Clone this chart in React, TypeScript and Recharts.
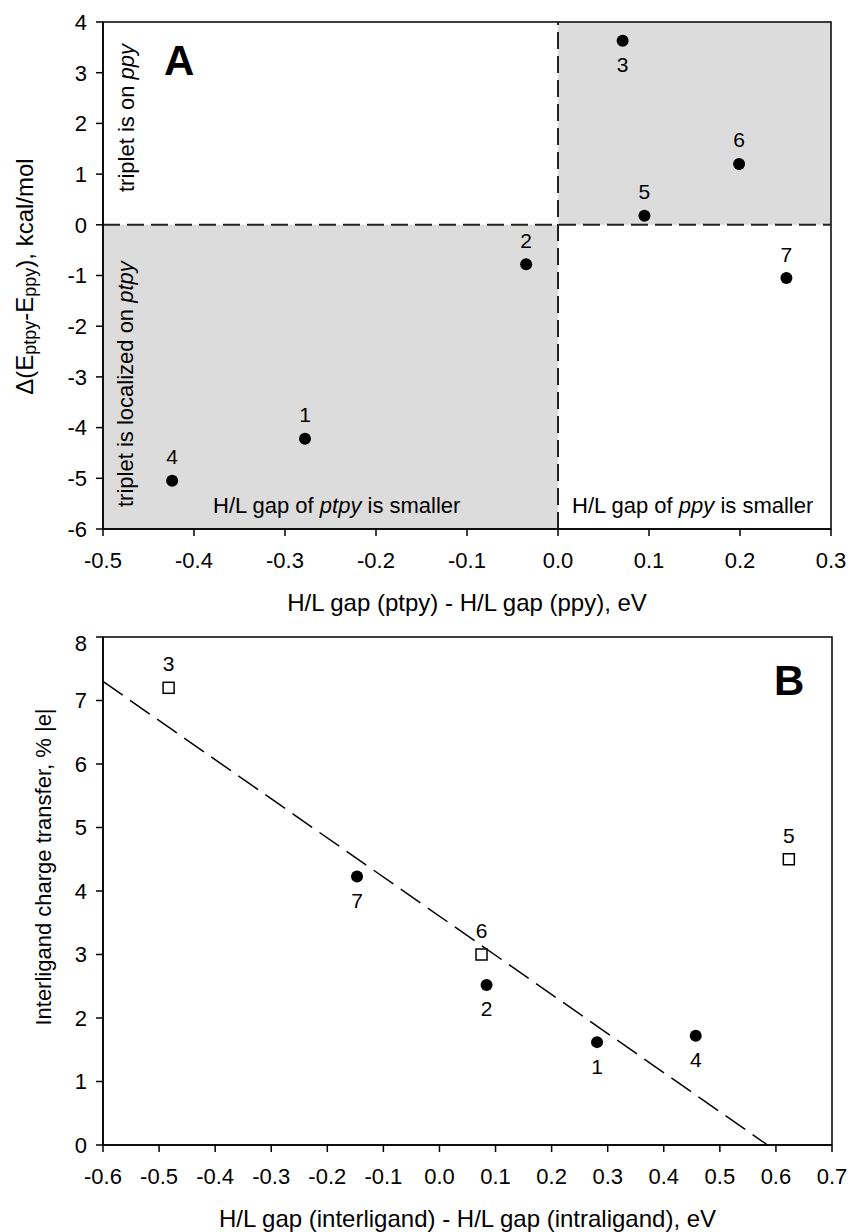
import React from 'react';
import {
  ScatterChart,
  Scatter,
  XAxis,
  YAxis,
  ReferenceArea,
  ReferenceLine,
  Label,
} from 'recharts';

const FONT = '"Liberation Sans", Arial, Helvetica, sans-serif';

// Panel A: complex id, H/L gap difference (eV), energy difference (kcal/mol)
const A_IDS = ['1', '2', '3', '4', '5', '6', '7'];
const A_X = [-0.278, -0.035, 0.071, -0.424, 0.095, 0.199, 0.251];
const A_Y = [-4.22, -0.78, 3.63, -5.05, 0.18, 1.2, -1.05];
const A_LABEL_BELOW = ['3'];
const A_X_TICKS = [-0.5, -0.4, -0.3, -0.2, -0.1, 0, 0.1, 0.2, 0.3];
const A_Y_TICKS = [-6, -5, -4, -3, -2, -1, 0, 1, 2, 3, 4];

// Panel B: filled circles and open squares
const B_FILLED_IDS = ['1', '2', '4', '7'];
const B_FILLED_X = [0.281, 0.084, 0.457, -0.147];
const B_FILLED_Y = [1.62, 2.52, 1.72, 4.23];
const B_OPEN_IDS = ['3', '5', '6'];
const B_OPEN_X = [-0.483, 0.623, 0.075];
const B_OPEN_Y = [7.2, 4.5, 3.0];
const B_LABEL_BELOW = ['1', '2', '4', '7'];
const B_FIT_X = [-0.6, 0.585];
const B_FIT_Y = [7.3, 0];
const B_X_TICKS = [-0.6, -0.5, -0.4, -0.3, -0.2, -0.1, 0, 0.1, 0.2, 0.3, 0.4, 0.5, 0.6, 0.7];
const B_Y_TICKS = [0, 1, 2, 3, 4, 5, 6, 7, 8];

const toRows = (ids: string[], xs: number[], ys: number[]) =>
  ids.map((id, i) => ({ id, x: xs[i], y: ys[i] }));

const dataA = toRows(A_IDS, A_X, A_Y);
const dataBFilled = toRows(B_FILLED_IDS, B_FILLED_X, B_FILLED_Y);
const dataBOpen = toRows(B_OPEN_IDS, B_OPEN_X, B_OPEN_Y);

const fmt = (v: number) => v.toFixed(1);

const pointLabel = (cx: number, cy: number, id: string, below: boolean) => (
  <text
    x={cx}
    y={cy + (below ? 24 : -24)}
    textAnchor="middle"
    dominantBaseline="central"
    fontSize={21}
    fontFamily={FONT}
    fill="#000"
  >
    {id}
  </text>
);

const makeDot = (belowIds: string[]) => (props: any) => {
  const { cx, cy, payload } = props;
  return (
    <g>
      <circle cx={cx} cy={cy} r={6} fill="#000" />
      {pointLabel(cx, cy, payload.id, belowIds.includes(payload.id))}
    </g>
  );
};

const makeSquare = (belowIds: string[]) => (props: any) => {
  const { cx, cy, payload } = props;
  return (
    <g>
      <rect x={cx - 5.5} y={cy - 5.5} width={11} height={11} fill="#fff" stroke="#000" strokeWidth={1.5} />
      {pointLabel(cx, cy, payload.id, belowIds.includes(payload.id))}
    </g>
  );
};

const axisProps = {
  stroke: '#000',
  axisLine: { stroke: '#000', strokeWidth: 1.5 },
  tickLine: { stroke: '#000', strokeWidth: 1.5 },
  tick: { fill: '#000', fontSize: 22, fontFamily: FONT },
  tickSize: 7,
};

const XTitle = (text: string) => (props: any) => {
  const vb = props.viewBox;
  return (
    <text
      x={vb.x + vb.width / 2}
      y={vb.y + 82}
      textAnchor="middle"
      fontSize={24}
      fontFamily={FONT}
      fill="#000"
    >
      {text}
    </text>
  );
};

const YTitleA = (props: any) => {
  const vb = props.viewBox;
  const x = vb.x - 9;
  const y = vb.y + vb.height / 2 + 1;
  return (
    <text
      x={x}
      y={y}
      transform={`rotate(-90, ${x}, ${y})`}
      textAnchor="middle"
      dominantBaseline="central"
      fontSize={24}
      fontFamily={FONT}
      fill="#000"
    >
      Δ(E
      <tspan fontSize={18} dy={6}>ptpy</tspan>
      <tspan dy={-6}>-E</tspan>
      <tspan fontSize={18} dy={6}>ppy</tspan>
      <tspan dy={-6}>), kcal/mol</tspan>
    </text>
  );
};

const YTitleB = (props: any) => {
  const vb = props.viewBox;
  const x = vb.x + 10;
  const y = vb.y + vb.height / 2 - 24;
  return (
    <text
      x={x}
      y={y}
      transform={`rotate(-90, ${x}, ${y})`}
      textAnchor="middle"
      dominantBaseline="central"
      fontSize={22}
      fontFamily={FONT}
      fill="#000"
    >
      Interligand charge transfer, % |e|
    </text>
  );
};

const App: React.FC = () => {
  return (
    <div style={styles.page}>
      <div style={styles.chartA}>
        <ScatterChart width={849} height={630} margin={{ top: 22, right: 18, bottom: 41, left: 33 }}>
          <ReferenceArea x1={0} x2={0.3} y1={0} y2={4} fill="#dcdcdc" fillOpacity={1} stroke="none" />
          <ReferenceArea x1={-0.5} x2={0} y1={-6} y2={0} fill="#dcdcdc" fillOpacity={1} stroke="none" />
          <ReferenceArea x1={-0.5} x2={0.3} y1={-6} y2={4} fill="none" stroke="#000" strokeWidth={1.5} />
          <ReferenceLine x={0} stroke="#222" strokeWidth={2} strokeDasharray="17 7" />
          <ReferenceLine y={0} stroke="#222" strokeWidth={2} strokeDasharray="17 7" />
          <XAxis
            type="number"
            dataKey="x"
            domain={[-0.5, 0.3]}
            ticks={A_X_TICKS}
            tickFormatter={fmt}
            height={60}
            tickMargin={16}
            allowDataOverflow
            {...axisProps}
          >
            <Label content={XTitle('H/L gap (ptpy) - H/L gap (ppy), eV')} />
          </XAxis>
          <YAxis
            type="number"
            dataKey="y"
            domain={[-6, 4]}
            ticks={A_Y_TICKS}
            width={70}
            tickMargin={9}
            allowDataOverflow
            {...axisProps}
          >
            <Label content={YTitleA} />
          </YAxis>
          <Scatter data={dataA} shape={makeDot(A_LABEL_BELOW)} isAnimationActive={false} />
        </ScatterChart>
      </div>

      <div style={styles.chartB}>
        <ScatterChart width={849} height={602} margin={{ top: 7, right: 17, bottom: 27, left: 33 }}>
          <ReferenceArea x1={-0.6} x2={0.7} y1={0} y2={8} fill="none" stroke="#000" strokeWidth={1.5} />
          <ReferenceLine
            segment={[
              { x: B_FIT_X[0], y: B_FIT_Y[0] },
              { x: B_FIT_X[1], y: B_FIT_Y[1] },
            ]}
            stroke="#000"
            strokeWidth={1.5}
            strokeDasharray="24 9"
          />
          <XAxis
            type="number"
            dataKey="x"
            domain={[-0.6, 0.7]}
            ticks={B_X_TICKS}
            tickFormatter={fmt}
            height={60}
            tickMargin={16}
            allowDataOverflow
            {...axisProps}
          >
            <Label content={XTitle('H/L gap (interligand) - H/L gap (intraligand), eV')} />
          </XAxis>
          <YAxis
            type="number"
            dataKey="y"
            domain={[0, 8]}
            ticks={B_Y_TICKS}
            width={70}
            tickMargin={9}
            allowDataOverflow
            {...axisProps}
          >
            <Label content={YTitleB} />
          </YAxis>
          <Scatter data={dataBFilled} shape={makeDot(B_LABEL_BELOW)} isAnimationActive={false} />
          <Scatter data={dataBOpen} shape={makeSquare(B_LABEL_BELOW)} isAnimationActive={false} />
        </ScatterChart>
      </div>

      {/* panel letters and region notes */}
      <svg width={849} height={1232} style={styles.overlay}>
        <g fontFamily={FONT} fill="#000">
          <text x={164} y={75} fontSize={42} fontWeight="bold">A</text>
          <text x={774} y={695} fontSize={42} fontWeight="bold">B</text>
          <text x={134} y={192} fontSize={22} transform="rotate(-90, 134, 192)">
            triplet is on <tspan fontStyle="italic">ppy</tspan>
          </text>
          <text x={133} y={507} fontSize={22} transform="rotate(-90, 133, 507)">
            triplet is localized on <tspan fontStyle="italic">ptpy</tspan>
          </text>
          <text x={213} y={513} fontSize={22}>
            H/L gap of <tspan fontStyle="italic">ptpy</tspan> is smaller
          </text>
          <text x={572} y={513} fontSize={22}>
            H/L gap of <tspan fontStyle="italic">ppy</tspan> is smaller
          </text>
        </g>
      </svg>
    </div>
  );
};

const styles: Record<string, React.CSSProperties> = {
  page: {
    position: 'absolute',
    left: 0,
    top: 0,
    width: 849,
    height: 1232,
    background: '#fff',
  },
  chartA: {
    position: 'absolute',
    left: 0,
    top: 0,
  },
  chartB: {
    position: 'absolute',
    left: 0,
    top: 630,
  },
  overlay: {
    position: 'absolute',
    left: 0,
    top: 0,
    pointerEvents: 'none',
  },
};

export default App;
